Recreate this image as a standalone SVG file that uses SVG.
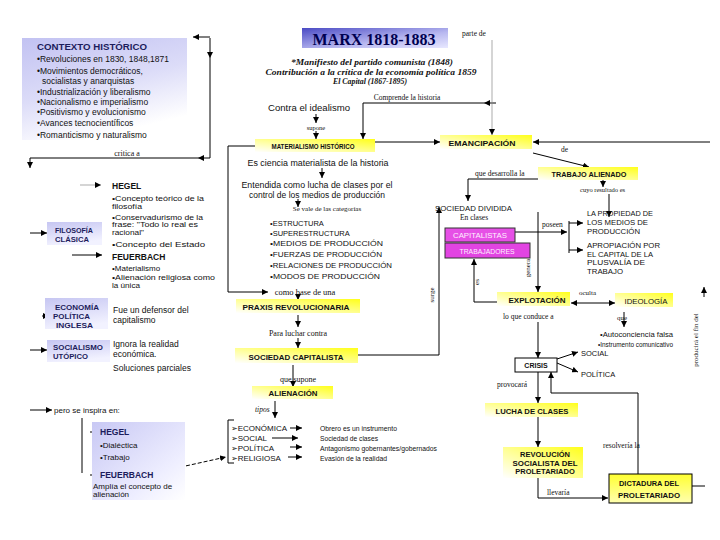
<svg xmlns="http://www.w3.org/2000/svg" width="720" height="540" viewBox="0 0 720 540">
<defs>
<style>
.s{font-family:"Liberation Sans",Arial,"DejaVu Sans",sans-serif;fill:#111}
.r{font-family:"Liberation Serif","Times New Roman",serif;fill:#111}
.b{font-weight:bold}
.nv{fill:#1c1c5c}
.ln{fill:none;stroke:#000;stroke-width:1}
.lt{fill:none;stroke:#888;stroke-width:0.7}
.a{marker-end:url(#ah)}
.da{marker-start:url(#ahs);marker-end:url(#ah)}
.yb{fill:url(#yel)}
.lb{fill:url(#lav2)}
</style>
<marker id="ah" viewBox="0 0 10 10" refX="10" refY="5" markerWidth="6" markerHeight="6" orient="auto" markerUnits="userSpaceOnUse"><path d="M0,0 L10,5 L0,10 z" fill="#000"/></marker>
<marker id="ahs" viewBox="0 0 10 10" refX="10" refY="5" markerWidth="6" markerHeight="6" orient="auto-start-reverse" markerUnits="userSpaceOnUse"><path d="M0,0 L10,5 L0,10 z" fill="#000"/></marker>
<linearGradient id="lav" x1="0" y1="0" x2="0.4" y2="1"><stop offset="0" stop-color="#c2c2f2"/><stop offset="0.55" stop-color="#dcdcf8"/><stop offset="1" stop-color="#ffffff"/></linearGradient>
<linearGradient id="lav2" x1="0" y1="0" x2="0.3" y2="1"><stop offset="0" stop-color="#c6c6f2"/><stop offset="1" stop-color="#f2f2ff"/></linearGradient>
<linearGradient id="lav3" x1="0" y1="0" x2="1" y2="1"><stop offset="0" stop-color="#c8c8f4"/><stop offset="0.7" stop-color="#eeeeff"/><stop offset="1" stop-color="#ffffff"/></linearGradient>
<linearGradient id="yel" x1="0" y1="1" x2="1" y2="0"><stop offset="0" stop-color="#ffffff"/><stop offset="0.5" stop-color="#ffff90"/><stop offset="1" stop-color="#ffff1a"/></linearGradient>
<linearGradient id="yel2" x1="0" y1="0" x2="0" y2="1"><stop offset="0" stop-color="#ffff30"/><stop offset="1" stop-color="#ffffb0"/></linearGradient>
<linearGradient id="blu" x1="0" y1="0" x2="1" y2="1"><stop offset="0" stop-color="#4a4ac4"/><stop offset="0.6" stop-color="#b8b8f0"/><stop offset="1" stop-color="#e8e8ff"/></linearGradient>
</defs>
<rect width="720" height="540" fill="#fff"/>

<g id="connectors">
<path class="ln a" d="M210,37 H193"/>
<path class="ln a" d="M210,38 V58"/>
<path class="ln" d="M210,58 V158"/>
<path class="ln a" d="M210,158 H198"/>
<path class="ln" d="M198,158 H30"/>
<path class="ln a" d="M30,158 V168"/>
<path class="ln a" d="M30,233 H47"/>
<path class="ln a" d="M30,350 H47"/>
<path class="ln a" d="M30,410 H52"/>
<path class="lt a" d="M80,185 H101"/>
<path class="ln a" d="M72,255 H102"/>
<path class="ln a" d="M42,316 H49"/>
<path class="ln a" d="M102,316 H108"/>
<path class="ln a" d="M102,357 H108"/>
<path class="ln" d="M82,418 V473"/>
<path class="ln a" d="M90,432 H99"/>
<path class="ln a" d="M90,475 H99"/>
<path class="ln a" d="M145,475 L226,457" stroke-dasharray="4,2"/>
<path class="ln" d="M234,420 H228 V463 H234"/>
<path class="ln a" d="M257,146 H228 V292 H268"/>
<path class="ln a" d="M316,114 V123"/>
<path class="ln a" d="M316,131 V139"/>
<path class="ln a" d="M496,103 H484"/>
<path class="ln a" d="M484,103 H363 V139"/>
<path class="lt a" d="M492,40 V135"/>
<path class="ln a" d="M375,142 H440"/>
<path class="ln a" d="M322,168 V178"/>
<path class="ln a" d="M298,199 V207"/>
<path class="ln a" d="M298,295 V300"/>
<path class="ln a" d="M298,315 V327"/>
<path class="ln a" d="M298,338 V348"/>
<path class="ln a" d="M358,355 H439 V207"/>
<path class="ln a" d="M293,365 V387"/>
<path class="ln a" d="M275,401 V418"/>
<path class="ln a" d="M290,428 H302"/>
<path class="ln a" d="M272,438 H298"/>
<path class="ln a" d="M290,447 H302"/>
<path class="ln a" d="M288,457 H302"/>
<path class="ln a" d="M710,142 H533"/>
<path class="ln a" d="M533,153 L589,167"/>
<path class="ln a" d="M538,179 H468 V201"/>
<path class="ln a" d="M603,180 V187"/>
<path class="ln a" d="M609,194 V217"/>
<path class="ln a" d="M515,232 H567"/>
<path class="ln" d="M569,221 V253"/>
<path class="ln a" d="M569,223 H583"/>
<path class="ln a" d="M569,250 H583"/>
<path class="ln a" d="M538,212 V292"/>
<path class="ln a" d="M497,302 H474 V259"/>
<path class="ln da" d="M571,303 H615"/>
<path class="ln a" d="M624,312 V327"/>
<path class="ln a" d="M538,322 V358"/>
<path class="ln a" d="M557,359 L578,352"/>
<path class="ln a" d="M557,363 L578,372"/>
<path class="ln a" d="M538,372 V403"/>
<path class="ln a" d="M538,417 V447"/>
<path class="ln a" d="M538,478 V498 H608"/>
<path class="ln a" d="M638,474 V393 H551 V372"/>
<path class="ln" d="M692,486 H705"/>
<path class="ln a" d="M704,297 V287"/>
<g id="connector-labels">
<text class="r" x="127" y="156" font-size="8" text-anchor="middle">critica a</text>
<text class="r" x="316" y="130" font-size="6.5" text-anchor="middle">supone</text>
<text class="r" x="407" y="100" font-size="7.5" text-anchor="middle">Comprende la historia</text>
<text class="r" x="462" y="36" font-size="7.5">parte de</text>
<text class="r" x="327" y="211" font-size="7" text-anchor="middle">Se vale de las categorías</text>
<text class="r" x="305" y="295" font-size="8.5" text-anchor="middle">como base de una</text>
<text class="r" x="298" y="336" font-size="8" text-anchor="middle">Para luchar contra</text>
<text class="r" x="298" y="382" font-size="8" text-anchor="middle">que supone</text>
<text class="r" x="255" y="412" font-size="7.5" font-style="italic">tipos</text>
<text class="r" x="475" y="176" font-size="7.5">que desarrolla la</text>
<text class="r" x="580" y="192" font-size="6.5">cuyo resultado es</text>
<text class="r" x="561" y="152" font-size="7.5">de</text>
<text class="r" x="542" y="227" font-size="7.5">poseen</text>
<text class="r" x="579" y="295" font-size="7">oculta</text>
<text class="r" x="617" y="320" font-size="7">que</text>
<text class="r" x="503" y="319" font-size="7.5">lo que conduce a</text>
<text class="r" x="497" y="387" font-size="7.5">provocará</text>
<text class="r" x="547" y="495" font-size="7.5">llevaría</text>
<text class="r" x="603" y="448" font-size="7.5">resolvería la</text>
<text class="r" font-size="7" text-anchor="middle" transform="translate(434,295) rotate(-90)">surge</text>
<text class="r" font-size="7" text-anchor="middle" transform="translate(530,268) rotate(-90)">genera</text>
<text class="r" font-size="7" text-anchor="middle" transform="translate(479,282) rotate(-90)">es</text>
<text class="r" font-size="7" text-anchor="middle" transform="translate(698,340) rotate(-90)">producirá el fin del</text>
</g>
</g>

<g id="contexto">
<rect x="22" y="38" width="165" height="102" fill="url(#lav)"/>
<text class="s b nv" x="37" y="50" font-size="9.5" textLength="110" lengthAdjust="spacingAndGlyphs">CONTEXTO HISTÓRICO</text>
<text class="s" x="37" y="62" font-size="8.5">•Revoluciones en 1830, 1848,1871</text>
<text class="s" x="37" y="73.5" font-size="8.5">•Movimientos democráticos,</text>
<text class="s" x="42" y="84" font-size="8.5"> socialistas y anarquistas</text>
<text class="s" x="37" y="94.5" font-size="8.5">•Industrialización y liberalismo</text>
<text class="s" x="37" y="105" font-size="8.5">•Nacionalismo e imperialismo</text>
<text class="s" x="37" y="115" font-size="8.5">•Positivismo y evolucionismo</text>
<text class="s" x="37" y="125.5" font-size="8.5">•Avances tecnocientíficos</text>
<text class="s" x="37" y="138" font-size="8.5">•Romanticismo y naturalismo</text>
</g>

<g id="marx">
<rect x="302" y="28" width="146" height="20" fill="url(#blu)"/>
<text class="r b" x="374" y="45" font-size="16" text-anchor="middle" textLength="123" lengthAdjust="spacingAndGlyphs" style="fill:#000050">MARX  1818-1883</text>
</g>

<g id="obras">
<text class="r" x="372" y="65" font-size="8" font-weight="bold" font-style="italic" text-anchor="middle" textLength="162" lengthAdjust="spacingAndGlyphs">*Manifiesto del partido comunista (1848)</text>
<text class="r" x="371" y="75" font-size="8" font-weight="bold" font-style="italic" text-anchor="middle" textLength="211" lengthAdjust="spacingAndGlyphs">Contribución a la crítica de la economía política 1859</text>
<text class="r" x="370" y="84" font-size="8" font-weight="bold" font-style="italic" text-anchor="middle" textLength="74" lengthAdjust="spacingAndGlyphs">El Capital (1867-1895)</text>
</g>

<g id="contra-idealismo">
<text class="s" x="268" y="111" font-size="9" textLength="82" lengthAdjust="spacingAndGlyphs">Contra el idealismo</text>
</g>

<g id="materialismo">
<rect x="255" y="139" width="120" height="13" class="yb"/>
<text class="s b" x="313" y="149" font-size="7" text-anchor="middle" textLength="83" lengthAdjust="spacingAndGlyphs">MATERIALISMO HISTÓRICO</text>
</g>

<g id="ciencia">
<text class="s" x="318" y="166" font-size="8.5" text-anchor="middle" textLength="141" lengthAdjust="spacingAndGlyphs">Es ciencia materialista de la historia</text>
</g>

<g id="entendida">
<text class="s" x="317" y="188" font-size="8.5" text-anchor="middle" textLength="151" lengthAdjust="spacingAndGlyphs">Entendida como lucha de clases por el</text>
<text class="s" x="317" y="198" font-size="8.5" text-anchor="middle" textLength="136" lengthAdjust="spacingAndGlyphs">control de los medios de producción</text>
</g>

<g id="categorias">
<text class="s" x="270" y="225.5" font-size="7.5">•ESTRUCTURA</text>
<text class="s" x="270" y="235.5" font-size="7.5">•SUPERESTRUCTURA</text>
<text class="s" x="270" y="246" font-size="7.5" textLength="113" lengthAdjust="spacingAndGlyphs">•MEDIOS DE PRODUCCIÓN</text>
<text class="s" x="270" y="257" font-size="7.5" textLength="112" lengthAdjust="spacingAndGlyphs">•FUERZAS DE PRODUCCIÓN</text>
<text class="s" x="270" y="268" font-size="7.5" textLength="122" lengthAdjust="spacingAndGlyphs">•RELACIONES DE PRODUCCIÓN</text>
<text class="s" x="270" y="279" font-size="7.5" textLength="110" lengthAdjust="spacingAndGlyphs">•MODOS DE PRODUCCIÓN</text>
</g>

<g id="praxis">
<rect x="236" y="299" width="124" height="14" class="yb"/>
<text class="s b" x="296" y="310" font-size="7.5" text-anchor="middle" textLength="107" lengthAdjust="spacingAndGlyphs">PRAXIS REVOLUCIONARIA</text>
</g>

<g id="sociedad-capitalista">
<rect x="235" y="348" width="123" height="15" class="yb"/>
<text class="s b" x="296" y="360" font-size="7.5" text-anchor="middle" textLength="95" lengthAdjust="spacingAndGlyphs">SOCIEDAD CAPITALISTA</text>
</g>

<g id="alienacion">
<rect x="252" y="386" width="81" height="13" class="yb"/>
<text class="s b" x="293" y="396" font-size="7.5" text-anchor="middle" textLength="49" lengthAdjust="spacingAndGlyphs">ALIENACIÓN</text>
</g>

<g id="tipos-alienacion">
<text class="s" x="231" y="431" font-size="8">➢ECONÓMICA</text>
<text class="s" x="231" y="441" font-size="8">➢SOCIAL</text>
<text class="s" x="231" y="450.5" font-size="8">➢POLÍTICA</text>
<text class="s" x="231" y="460.5" font-size="8">➢RELIGIOSA</text>
</g>

<g id="efectos-alienacion">
<text class="s" x="320" y="431" font-size="7" textLength="77" lengthAdjust="spacingAndGlyphs">Obrero es un instrumento</text>
<text class="s" x="320" y="441" font-size="7" textLength="58" lengthAdjust="spacingAndGlyphs">Sociedad de clases</text>
<text class="s" x="320" y="450.5" font-size="7" textLength="117" lengthAdjust="spacingAndGlyphs">Antagonismo gobernantes/gobernados</text>
<text class="s" x="320" y="460.5" font-size="7" textLength="67" lengthAdjust="spacingAndGlyphs">Evasión de la realidad</text>
</g>

<g id="hegel-feuerbach">
<text class="s b" x="112" y="188.5" font-size="8.5">HEGEL</text>
<text class="s" x="112" y="201" font-size="7.5" textLength="92" lengthAdjust="spacingAndGlyphs">•Concepto teórico de la</text>
<text class="s" x="112" y="209" font-size="7.5" textLength="30" lengthAdjust="spacingAndGlyphs">filosofía</text>
<text class="s" x="112" y="219.5" font-size="7.5" textLength="91" lengthAdjust="spacingAndGlyphs">•Conservadurismo de la</text>
<text class="s" x="112" y="227" font-size="7.5" textLength="86" lengthAdjust="spacingAndGlyphs">frase: "Todo lo real es</text>
<text class="s" x="112" y="234.5" font-size="7.5" textLength="32" lengthAdjust="spacingAndGlyphs">racional"</text>
<text class="s" x="112" y="246.5" font-size="8" textLength="93" lengthAdjust="spacingAndGlyphs">•Concepto del Estado</text>
<text class="s b" x="112" y="259.5" font-size="8.5">FEUERBACH</text>
<text class="s" x="112" y="271" font-size="8">•Materialismo</text>
<text class="s" x="112" y="280" font-size="7.5" textLength="103" lengthAdjust="spacingAndGlyphs">•Alienación religiosa como</text>
<text class="s" x="112" y="287.5" font-size="7.5" textLength="28" lengthAdjust="spacingAndGlyphs">la única</text>
</g>

<g id="filosofia-clasica">
<rect x="47" y="222" width="55" height="23" class="lb"/>
<text class="s b nv" x="55" y="233" font-size="7" textLength="38" lengthAdjust="spacingAndGlyphs">FILOSOFÍA</text>
<text class="s b nv" x="55" y="242" font-size="7" textLength="34" lengthAdjust="spacingAndGlyphs">CLÁSICA</text>
</g>

<g id="economia-politica">
<rect x="45" y="298" width="63" height="31" class="lb"/>
<text class="s b nv" x="55" y="309.5" font-size="7.5" textLength="44" lengthAdjust="spacingAndGlyphs">ECONOMÍA</text>
<text class="s b nv" x="53" y="318.5" font-size="7.5" textLength="37" lengthAdjust="spacingAndGlyphs">POLÍTICA</text>
<text class="s b nv" x="56" y="327.5" font-size="7.5" textLength="37" lengthAdjust="spacingAndGlyphs">INGLESA</text>
</g>

<g id="economia-desc">
<text class="s" x="113" y="313" font-size="8.5">Fue un defensor del</text>
<text class="s" x="113" y="323" font-size="8.5">capitalismo</text>
</g>

<g id="socialismo-utopico">
<rect x="47" y="340" width="63" height="22" class="lb"/>
<text class="s b nv" x="53" y="350" font-size="7.5" textLength="50" lengthAdjust="spacingAndGlyphs">SOCIALISMO</text>
<text class="s b nv" x="53" y="359" font-size="7.5" textLength="35" lengthAdjust="spacingAndGlyphs">UTÓPICO</text>
</g>

<g id="socialismo-desc">
<text class="s" x="113" y="347" font-size="8.5">Ignora la realidad</text>
<text class="s" x="113" y="357" font-size="8.5">económica.</text>
<text class="s" x="113" y="371" font-size="8.5">Soluciones parciales</text>
</g>

<g id="inspira">
<text class="s" x="54" y="413" font-size="8">pero se inspira en:</text>
</g>

<g id="hegel-feuerbach-2">
<rect x="92" y="422" width="93" height="78" fill="url(#lav3)"/>
<text class="s b nv" x="100" y="435" font-size="8.5">HEGEL</text>
<text class="s" x="100" y="448" font-size="8">•Dialéctica</text>
<text class="s" x="100" y="460" font-size="8">•Trabajo</text>
<text class="s b nv" x="100" y="478" font-size="8.5">FEUERBACH</text>
<text class="s" x="93" y="489" font-size="8">Amplía el concepto de</text>
<text class="s" x="93" y="497" font-size="8">alienación</text>
</g>

<g id="emancipacion">
<rect x="440" y="135" width="92" height="14" class="yb"/>
<text class="s b" x="482" y="145.5" font-size="7.5" text-anchor="middle" textLength="67" lengthAdjust="spacingAndGlyphs">EMANCIPACIÓN</text>
</g>

<g id="trabajo-alienado">
<rect x="538" y="167" width="100" height="13" class="yb"/>
<text class="s b" x="589" y="177" font-size="7.5" text-anchor="middle" textLength="75" lengthAdjust="spacingAndGlyphs">TRABAJO ALIENADO</text>
</g>

<g id="sociedad-dividida">
<text class="s" x="435" y="211" font-size="7.5" textLength="77" lengthAdjust="spacingAndGlyphs">SOCIEDAD DIVIDIDA</text>
<text class="r" x="474" y="219.5" font-size="7.5" text-anchor="middle">En clases</text>
</g>

<g id="trabajadores">
<rect x="445" y="243" width="85" height="15" fill="#e244e2" stroke="#333" stroke-width="1"/>
<text class="s" x="487" y="253.5" font-size="7.5" text-anchor="middle" textLength="55" lengthAdjust="spacingAndGlyphs" style="fill:#fff0ff">TRABAJADORES</text>
</g>

<g id="capitalistas">
<rect x="445" y="228" width="70" height="14" fill="#e650e6" stroke="#333" stroke-width="1"/>
<text class="s" x="480" y="238" font-size="7.5" text-anchor="middle" textLength="54" lengthAdjust="spacingAndGlyphs" style="fill:#fff0ff">CAPITALISTAS</text>
</g>

<g id="propiedad">
<text class="s" x="587" y="216" font-size="7.5" textLength="66" lengthAdjust="spacingAndGlyphs">LA PROPIEDAD DE</text>
<text class="s" x="587" y="225" font-size="7.5" textLength="61" lengthAdjust="spacingAndGlyphs">LOS MEDIOS DE</text>
<text class="s" x="587" y="234" font-size="7.5" textLength="53" lengthAdjust="spacingAndGlyphs">PRODUCCIÓN</text>
</g>

<g id="apropiacion">
<text class="s" x="587" y="248" font-size="7.5" textLength="73" lengthAdjust="spacingAndGlyphs">APROPIACIÓN POR</text>
<text class="s" x="587" y="256.5" font-size="7.5" textLength="66" lengthAdjust="spacingAndGlyphs">EL CAPITAL DE LA</text>
<text class="s" x="587" y="265" font-size="7.5" textLength="58" lengthAdjust="spacingAndGlyphs">PLUSVALÍA DE</text>
<text class="s" x="587" y="273.5" font-size="7.5" textLength="36" lengthAdjust="spacingAndGlyphs">TRABAJO</text>
</g>

<g id="explotacion">
<rect x="497" y="292" width="73" height="14" class="yb"/>
<text class="s b" x="537" y="303" font-size="7.5" text-anchor="middle" textLength="57" lengthAdjust="spacingAndGlyphs">EXPLOTACIÓN</text>
</g>

<g id="ideologia">
<rect x="615" y="293" width="58" height="14" class="yb"/>
<text class="s" x="646" y="304" font-size="7.5" text-anchor="middle" textLength="43" lengthAdjust="spacingAndGlyphs">IDEOLOGÍA</text>
</g>

<g id="ideologia-desc">
<text class="s" x="600" y="337" font-size="6.5" textLength="73" lengthAdjust="spacingAndGlyphs">•Autoconciencia falsa</text>
<text class="s" x="598" y="347" font-size="6.5" textLength="75" lengthAdjust="spacingAndGlyphs">•Instrumento comunicativo</text>
</g>

<g id="crisis">
<rect x="515" y="358" width="42" height="14" fill="#fff" stroke="#000" stroke-width="1"/>
<text class="s b" x="536" y="368" font-size="7" text-anchor="middle">CRISIS</text>
</g>

<g id="crisis-tipos">
<text class="s" x="581" y="355.5" font-size="7.5">SOCIAL</text>
<text class="s" x="581" y="377" font-size="7.5">POLÍTICA</text>
</g>

<g id="lucha-clases">
<rect x="485" y="403" width="93" height="14" class="yb"/>
<text class="s b" x="532" y="413.5" font-size="7.5" text-anchor="middle" textLength="73" lengthAdjust="spacingAndGlyphs">LUCHA DE CLASES</text>
</g>

<g id="revolucion">
<rect x="503" y="447" width="80" height="31" class="yb"/>
<text class="s b" x="545" y="457" font-size="7.5" text-anchor="middle">REVOLUCIÓN</text>
<text class="s b" x="545" y="465.5" font-size="7.5" text-anchor="middle" textLength="65" lengthAdjust="spacingAndGlyphs">SOCIALISTA DEL</text>
<text class="s b" x="545" y="474" font-size="7.5" text-anchor="middle">PROLETARIADO</text>
</g>

<g id="dictadura">
<rect x="609" y="474" width="83" height="29" fill="url(#yel2)" stroke="#000" stroke-width="1"/>
<text class="s b" x="649" y="485.5" font-size="7.5" text-anchor="middle" textLength="60" lengthAdjust="spacingAndGlyphs">DICTADURA DEL</text>
<text class="s b" x="649" y="498" font-size="7.5" text-anchor="middle" textLength="62" lengthAdjust="spacingAndGlyphs">PROLETARIADO</text>
</g>
</svg>
